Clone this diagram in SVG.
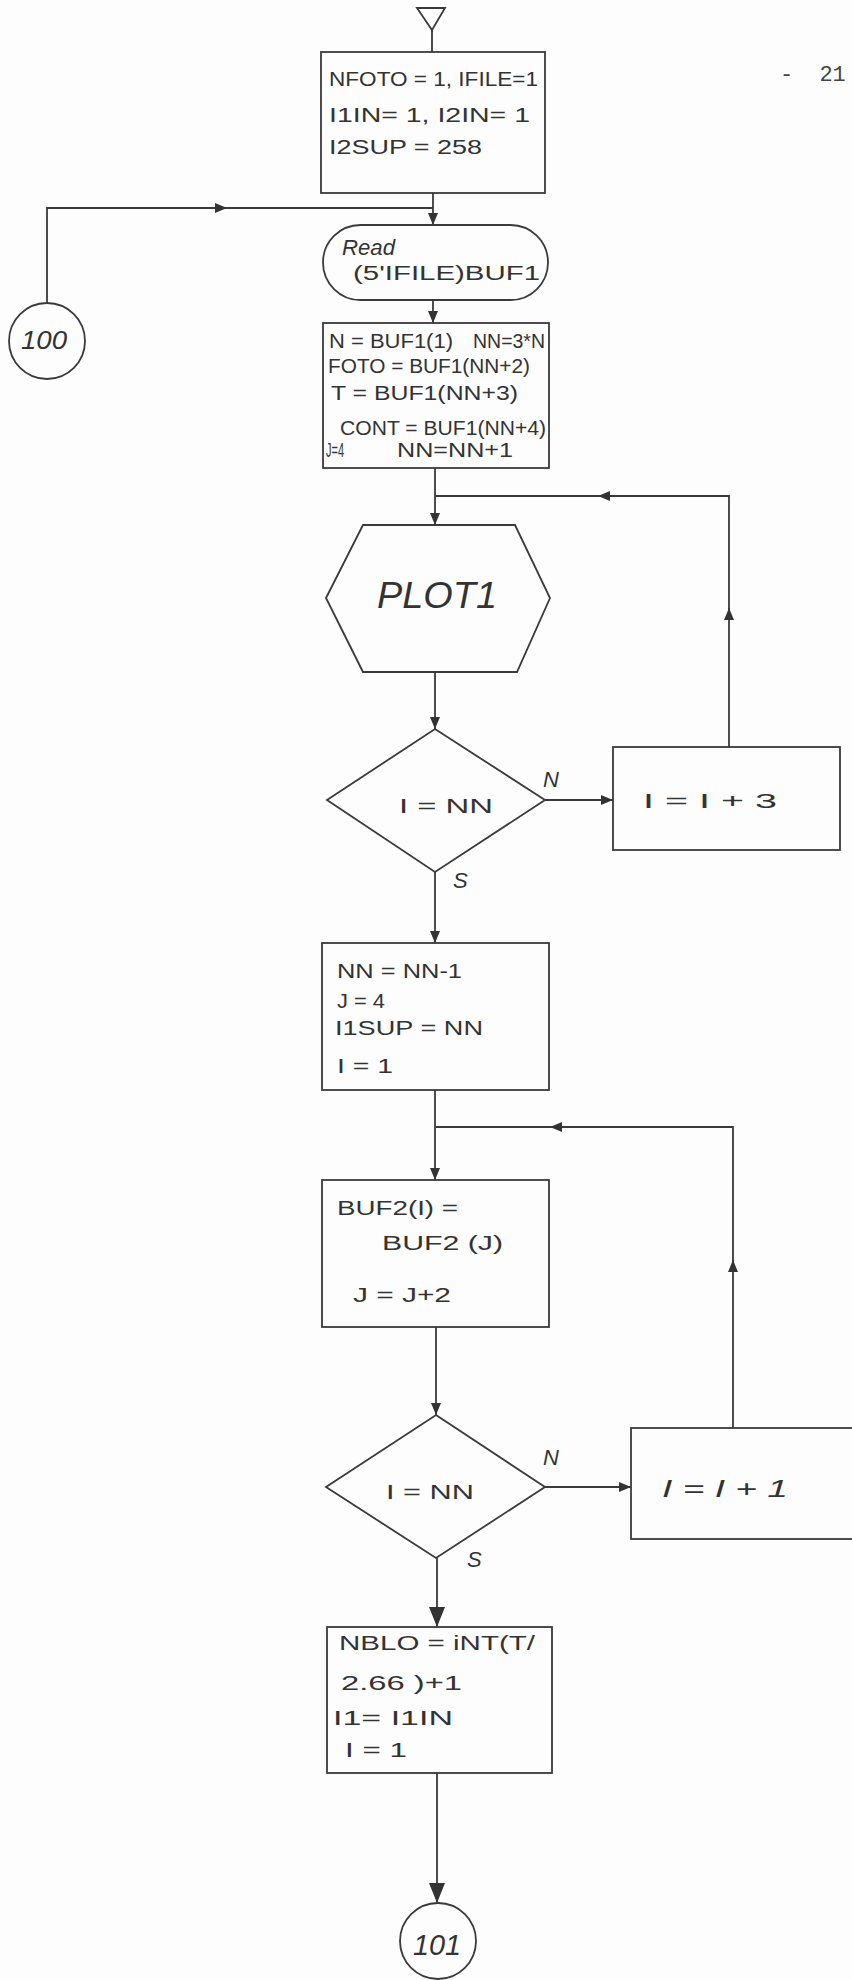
<svg xmlns="http://www.w3.org/2000/svg" width="852" height="1980" viewBox="0 0 852 1980">
<defs>
<style>
.bg{fill:#fdfdfd}
.shape{fill:none;stroke:#3a3a3a;stroke-width:1.8;stroke-linejoin:miter}
.conn{fill:none;stroke:#3a3a3a;stroke-width:1.8}
.t{font-family:"Liberation Sans",Arial,sans-serif;fill:#333;font-size:20px}
.ti{font-family:"Liberation Sans",Arial,sans-serif;fill:#333;font-style:italic}
.mono{font-family:"Liberation Mono","Courier New",monospace;fill:#444;font-size:22px}
</style>
<marker id="arr" viewBox="0 0 12 10" refX="12" refY="5" markerWidth="12" markerHeight="10" markerUnits="userSpaceOnUse" orient="auto">
<path d="M0,0 L12,5 L0,10 z" fill="#333"/>
</marker>
<marker id="arrL" viewBox="0 0 20 16" refX="20" refY="8" markerWidth="20" markerHeight="16" markerUnits="userSpaceOnUse" orient="auto">
<path d="M0,0 L20,8 L0,16 z" fill="#333"/>
</marker>
</defs>
<rect class="bg" x="0" y="0" width="852" height="1980"/>

<text class="mono" x="780" y="81">- <tspan dx="13">21</tspan></text>

<g id="connectors">
<path class="conn" d="M432,30 V52"/>
<path class="conn" d="M433,193 V225" marker-end="url(#arr)"/>
<path class="conn" d="M47,303 V208 H227" marker-end="url(#arr)"/>
<path class="conn" d="M225,208 H433"/>
<path class="conn" d="M433,300 V323" marker-end="url(#arr)"/>
<path class="conn" d="M435,468 V525" marker-end="url(#arr)"/>
<path class="conn" d="M729,747 V608" marker-end="url(#arr)"/>
<path class="conn" d="M729,610 V496 H598" marker-end="url(#arr)"/>
<path class="conn" d="M600,496 H435"/>
<path class="conn" d="M435,672 V729" marker-end="url(#arr)"/>
<path class="conn" d="M545,800 H613" marker-end="url(#arr)"/>
<path class="conn" d="M435,872 V943" marker-end="url(#arr)"/>
<path class="conn" d="M435,1090 V1180" marker-end="url(#arr)"/>
<path class="conn" d="M733,1428 V1260" marker-end="url(#arr)"/>
<path class="conn" d="M733,1262 V1127 H550" marker-end="url(#arr)"/>
<path class="conn" d="M552,1127 H436"/>
<path class="conn" d="M436,1327 V1415" marker-end="url(#arr)"/>
<path class="conn" d="M545,1487 H631" marker-end="url(#arr)"/>
<path class="conn" d="M437,1558 V1627" marker-end="url(#arrL)"/>
<path class="conn" d="M437,1773 V1903" marker-end="url(#arrL)"/>
<text class="ti" x="543" y="787" font-size="22">N</text>
<text class="ti" x="453" y="888" font-size="22">S</text>
<text class="ti" x="543" y="1465" font-size="22">N</text>
<text class="ti" x="467" y="1567" font-size="22">S</text>
</g>

<g id="start">
<path class="shape" d="M417,8 L445,8 L432,30 Z"/>
</g>

<g id="init">
<rect class="shape" x="321" y="52" width="224" height="141"/>
<text class="t" x="329" y="86" textLength="209" lengthAdjust="spacingAndGlyphs">NFOTO = 1, IFILE=1</text>
<text class="t" x="329" y="122" textLength="201" lengthAdjust="spacingAndGlyphs">I1IN= 1, I2IN= 1</text>
<text class="t" x="329" y="154" textLength="153" lengthAdjust="spacingAndGlyphs">I2SUP = 258</text>
</g>

<g id="c100">
<circle class="shape" cx="47" cy="341" r="38"/>
<text class="ti" x="21" y="349" font-size="26" textLength="46" lengthAdjust="spacingAndGlyphs">100</text>
</g>

<g id="read">
<rect class="shape" x="323" y="225" width="225" height="75" rx="37.5" ry="37.5"/>
<text class="ti" x="342" y="255" font-size="22" textLength="53" lengthAdjust="spacingAndGlyphs">Read</text>
<text class="t" x="353" y="280" textLength="187" lengthAdjust="spacingAndGlyphs">(5'IFILE)BUF1</text>
</g>

<g id="assign1">
<rect class="shape" x="323" y="323" width="226" height="145"/>
<text class="t" x="329" y="348" font-size="18" textLength="124" lengthAdjust="spacingAndGlyphs">N = BUF1(1)</text>
<text class="t" x="473" y="348" font-size="18" textLength="72" lengthAdjust="spacingAndGlyphs">NN=3*N</text>
<text class="t" x="328" y="373" textLength="202" lengthAdjust="spacingAndGlyphs">FOTO = BUF1(NN+2)</text>
<text class="t" x="331" y="400" textLength="187" lengthAdjust="spacingAndGlyphs">T = BUF1(NN+3)</text>
<text class="t" x="340" y="435" textLength="206" lengthAdjust="spacingAndGlyphs">CONT = BUF1(NN+4)</text>
<text class="t" x="326" y="457" font-size="16" textLength="18" lengthAdjust="spacingAndGlyphs">J=4</text>
<text class="t" x="397" y="457" textLength="116" lengthAdjust="spacingAndGlyphs">NN=NN+1</text>
</g>

<g id="plot1">
<path class="shape" d="M326,598 L363,525 L515,525 L550,598 L517,672 L363,672 Z"/>
<text class="ti" x="377" y="608" font-size="36" textLength="120" lengthAdjust="spacingAndGlyphs">PLOT1</text>
</g>

<g id="dec1">
<path class="shape" d="M435,729 L545,800 L435,872 L327,800 Z"/>
<text class="t" x="399" y="813" font-size="22" textLength="94" lengthAdjust="spacingAndGlyphs">I = NN</text>
</g>

<g id="inc3">
<rect class="shape" x="613" y="747" width="227" height="103"/>
<text class="t" x="643" y="808" font-size="26" textLength="134" lengthAdjust="spacingAndGlyphs">I = I + 3</text>
</g>

<g id="assign2">
<rect class="shape" x="322" y="943" width="227" height="147"/>
<text class="t" x="337" y="978" font-size="21" textLength="125" lengthAdjust="spacingAndGlyphs">NN = NN-1</text>
<text class="t" x="337" y="1008" font-size="21" textLength="48" lengthAdjust="spacingAndGlyphs">J = 4</text>
<text class="t" x="335" y="1035" font-size="21" textLength="148" lengthAdjust="spacingAndGlyphs">I1SUP = NN</text>
<text class="t" x="337" y="1073" font-size="21" textLength="56" lengthAdjust="spacingAndGlyphs">I = 1</text>
</g>

<g id="buf2">
<rect class="shape" x="322" y="1180" width="227" height="147"/>
<text class="t" x="337" y="1215" font-size="24" textLength="121" lengthAdjust="spacingAndGlyphs">BUF2(I) =</text>
<text class="t" x="382" y="1250" font-size="24" textLength="121" lengthAdjust="spacingAndGlyphs">BUF2 (J)</text>
<text class="t" x="353" y="1302" font-size="24" textLength="98" lengthAdjust="spacingAndGlyphs">J = J+2</text>
</g>

<g id="dec2">
<path class="shape" d="M436,1415 L545,1487 L436,1558 L326,1487 Z"/>
<text class="t" x="386" y="1499" font-size="24" textLength="88" lengthAdjust="spacingAndGlyphs">I = NN</text>
</g>

<g id="inc1">
<rect class="shape" x="631" y="1428" width="240" height="111"/>
<text class="ti" x="662" y="1497" font-size="24" textLength="126" lengthAdjust="spacingAndGlyphs">I = I + 1</text>
</g>

<g id="assign3">
<rect class="shape" x="327" y="1627" width="225" height="146"/>
<text class="t" x="339" y="1650" textLength="196" lengthAdjust="spacingAndGlyphs">NBLO = iNT(T/</text>
<text class="t" x="341" y="1690" font-size="22" textLength="121" lengthAdjust="spacingAndGlyphs">2.66 )+1</text>
<text class="t" x="333" y="1725" font-size="22" textLength="120" lengthAdjust="spacingAndGlyphs">I1= I1IN</text>
<text class="t" x="345" y="1757" font-size="22" textLength="62" lengthAdjust="spacingAndGlyphs">I = 1</text>
</g>

<g id="c101">
<circle class="shape" cx="438" cy="1941" r="38"/>
<text class="ti" x="413" y="1955" font-size="30" textLength="48" lengthAdjust="spacingAndGlyphs">101</text>
</g>
</svg>
